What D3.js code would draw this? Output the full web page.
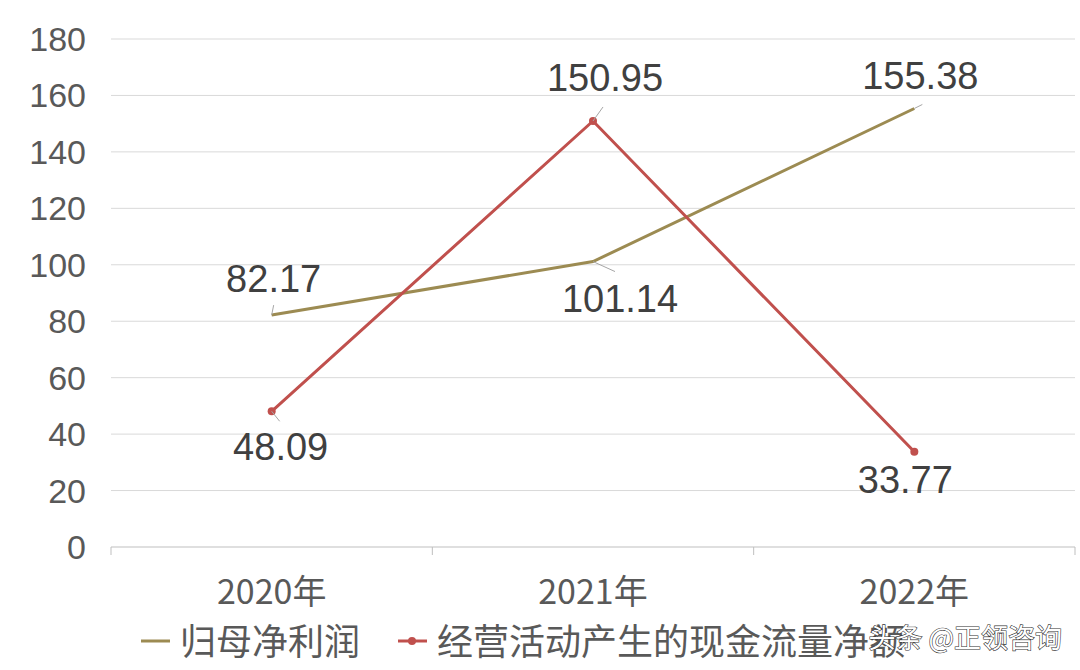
<!DOCTYPE html>
<html><head><meta charset="utf-8">
<script src="https://cdn.jsdelivr.net/npm/d3@7/dist/d3.min.js"></script>
<style>body{margin:0;background:#fff}text{font-family:"Noto Sans CJK SC","Liberation Sans",sans-serif}</style>
</head><body><svg width="1080" height="670"></svg>
<script>
const categories=["2020年","2021年","2022年"];
const profit=[82.17,101.14,155.38];
const cash=[48.09,150.95,33.77];
const yTicks=[0,20,40,60,80,100,120,140,160,180];
const seriesNames=["归母净利润","经营活动产生的现金流量净额"];
const svg=d3.select("svg");
const x=d3.scaleBand().domain(categories).range([111,1075]);
const y=d3.scaleLinear().domain([0,180]).range([547,39]);
const cx=d=>x(d)+x.bandwidth()/2;
svg.append("g").selectAll("line").data(yTicks.slice(1)).join("line")
 .attr("x1",111).attr("x2",1075).attr("y1",d=>y(d)).attr("y2",d=>y(d)).attr("stroke","#d9d9d9");
svg.append("line").attr("x1",111).attr("x2",1075).attr("y1",y(0)).attr("y2",y(0)).attr("stroke","#bfbfbf");
svg.append("g").selectAll("line").data([0,1,2,3]).join("line")
 .attr("x1",d=>111+d*x.bandwidth()).attr("x2",d=>111+d*x.bandwidth()).attr("y1",y(0)).attr("y2",y(0)+8).attr("stroke","#bfbfbf");
svg.append("g").selectAll("text").data(yTicks).join("text")
 .attr("x",86).attr("y",d=>y(d)+12).attr("text-anchor","end").attr("font-size",34).attr("fill","#595959")
 .style("font-family","Liberation Sans").text(d=>d);
svg.append("g").selectAll("text").data(categories).join("text")
 .attr("x",cx).attr("y",604).attr("text-anchor","middle").attr("font-size",34).attr("fill","#595959").text(d=>d);
const cols=["#9c8b52","#c0504d"];
const line=d3.line().x((d,i)=>cx(categories[i])).y(d=>y(d));
svg.append("path").attr("d",line(profit)).attr("fill","none").attr("stroke",cols[0]).attr("stroke-width",3);
svg.append("path").attr("d",line(cash)).attr("fill","none").attr("stroke",cols[1]).attr("stroke-width",3);
svg.append("g").selectAll("circle").data(cash).join("circle").attr("cx",(d,i)=>cx(categories[i])).attr("cy",d=>y(d)).attr("r",4).attr("fill",cols[1]);
const lab=[
 {v:profit,i:0,dx:2,dy:-36,l:[2,-10]},
 {v:profit,i:1,dx:27,dy:37,l:[22,10]},
 {v:profit,i:2,dx:6,dy:-32,l:[8,-4]},
 {v:cash,i:0,dx:9,dy:36,l:[8,10]},
 {v:cash,i:1,dx:12,dy:-43,l:[10,-14]},
 {v:cash,i:2,dx:-9,dy:28,l:[0,0]}];
lab.forEach(o=>{const px=cx(categories[o.i]),py=y(o.v[o.i]);
 if(o.l[0]||o.l[1]) svg.append("line").attr("x1",px).attr("y1",py).attr("x2",px+o.l[0]).attr("y2",py+o.l[1]).attr("stroke","#a6a6a6");
 svg.append("text").attr("x",px+o.dx).attr("y",py+o.dy+13).attr("text-anchor","middle").attr("font-size",38).attr("fill","#404040")
 .style("font-family","Liberation Sans").text(o.v[o.i].toFixed(2));});
const lg=svg.append("g");
lg.append("line").attr("x1",141).attr("x2",170).attr("y1",641).attr("y2",641).attr("stroke",cols[0]).attr("stroke-width",3);
lg.append("text").attr("x",180).attr("y",655).attr("font-size",36).attr("fill","#595959").text(seriesNames[0]);
lg.append("line").attr("x1",398).attr("x2",427).attr("y1",641).attr("y2",641).attr("stroke",cols[1]).attr("stroke-width",3);
lg.append("circle").attr("cx",412).attr("cy",641).attr("r",4).attr("fill",cols[1]);
lg.append("text").attr("x",437).attr("y",655).attr("font-size",36).attr("fill","#595959").text(seriesNames[1]);
svg.append("text").attr("x",1062).attr("y",648).attr("text-anchor","end").attr("font-size",27).attr("fill","#fff")
 .attr("stroke","#333").attr("stroke-width",1.2).attr("paint-order","stroke").text("头条 @正领咨询");
</script></body></html>
